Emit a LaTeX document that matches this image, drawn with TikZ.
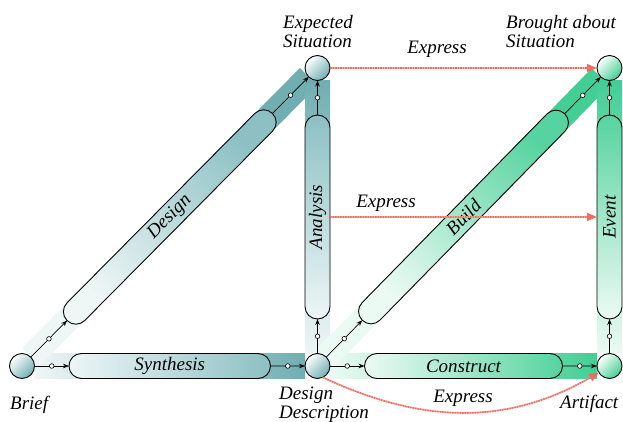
\documentclass[tikz,border=0pt]{standalone}
\usepackage{fontspec}
\setmainfont{Liberation Serif}
\usetikzlibrary{arrows.meta,shapes.misc,calc}

\definecolor{tealD}{RGB}{112,174,177}
\definecolor{tealC}{RGB}{140,192,195}
\definecolor{tealL}{RGB}{238,246,246}
\definecolor{greenD}{RGB}{66,206,148}
\definecolor{greenC}{RGB}{86,211,160}
\definecolor{greenL}{RGB}{236,250,244}
\definecolor{exprC}{RGB}{240,108,96}

\begin{document}
\begin{tikzpicture}[x=1pt,y=1pt,
  lbl/.style={font=\fontsize{19}{19}\selectfont\itshape, inner sep=0pt},
  hubbase/.style={circle, draw, line width=0.9pt, minimum size=25pt, inner sep=0pt, outer sep=0pt},
  hubT/.style={hubbase, top color=white, bottom color=tealD, shading angle=45},
  hubG/.style={hubbase, top color=white, bottom color=greenD, shading angle=45},
  band/.style={rectangle, draw=none, minimum height=25pt, inner sep=0pt, outer sep=0pt},
  capsule/.style={rounded rectangle, draw, line width=0.9pt, minimum height=25pt, inner sep=0pt, outer sep=0pt, lbl},
  conn/.style={line width=0.7pt, -{Stealth[length=6pt,width=4.5pt]}},
  dot/.style={circle, draw, fill=white, line width=0.6pt, minimum size=4.6pt, inner sep=0pt},
  exprbase/.style={exprC!55, line width=1.6pt, shorten >=8pt},
  expr/.style={exprC, line width=1.6pt, dash pattern=on 1.5pt off 1pt, -{Triangle[length=10pt,width=8pt]}},
]
\useasboundingbox (0,0) rectangle (623,421);

% hub positions
\coordinate (pBrief) at (22,55);
\coordinate (pDD) at (317.5,55);
\coordinate (pES) at (317.5,353);
\coordinate (pArt) at (609.5,55);
\coordinate (pBS) at (609.5,353);

% wide translucent bands behind the processes
\node[band, minimum width=270.5pt, bottom color=tealL, top color=tealD, shading angle=-90] (bSyn) at ($(pBrief)!0.5!(pDD)$) {};
\node[band, minimum width=394.7pt, rotate=45.24, bottom color=tealL, top color=tealD, shading angle=-44.76] (bDes) at ($(pBrief)!0.5!(pES)$) {};
\node[band, minimum width=273pt, rotate=90, bottom color=tealL, top color=tealD, shading angle=0] (bAna) at ($(pDD)!0.5!(pES)$) {};
\node[band, minimum width=267pt, bottom color=greenL, top color=greenD, shading angle=-90] (bCon) at ($(pDD)!0.5!(pArt)$) {};
\node[band, minimum width=392.2pt, rotate=45.58, bottom color=greenL, top color=greenD, shading angle=-44.42] (bBui) at ($(pDD)!0.5!(pBS)$) {};
\node[band, minimum width=273pt, rotate=90, bottom color=greenL, top color=greenD, shading angle=0] (bEve) at ($(pArt)!0.5!(pBS)$) {};

% situations and artefacts
\node[hubT] (brief) at (pBrief) {};
\node[hubT] (dd) at (pDD) {};
\node[hubT] (es) at (pES) {};
\node[hubG] (art) at (pArt) {};
\node[hubG] (bs) at (pBS) {};

% processes
\node[capsule, minimum width=201.5pt, bottom color=tealL, top color=tealC, shading angle=-90] (synth) at ($(pBrief)!0.5!(pDD)$) {Synthesis};
\node[capsule, minimum width=291.7pt, rotate=45.24, bottom color=tealL, top color=tealC, shading angle=-44.76] (design) at ($(pBrief)!0.5!(pES)$) {Design};
\node[capsule, minimum width=204pt, rotate=90, bottom color=tealL, top color=tealC, shading angle=0] (analysis) at ($(pDD)!0.5!(pES)$) {Analysis};
\node[capsule, minimum width=198pt, bottom color=greenL, top color=greenC, shading angle=-90] (construct) at ($(pDD)!0.5!(pArt)$) {Construct};
\node[capsule, minimum width=289.2pt, rotate=45.58, bottom color=greenL, top color=greenC, shading angle=-44.42] (build) at ($(pDD)!0.5!(pBS)$) {Build};
\node[capsule, minimum width=204pt, rotate=90, bottom color=greenL, top color=greenC, shading angle=0] (event) at ($(pArt)!0.5!(pBS)$) {Event};

% flow connectors
\draw[conn] (brief) -- node[dot]{} (synth);
\draw[conn] (synth) -- node[dot]{} (dd);
\draw[conn] (brief) -- node[dot]{} (design);
\draw[conn] (design) -- node[dot]{} (es);
\draw[conn] (dd) -- node[dot]{} (analysis);
\draw[conn] (analysis) -- node[dot]{} (es);
\draw[conn] (dd) -- node[dot]{} (build);
\draw[conn] (build) -- node[dot]{} (bs);
\draw[conn] (dd) -- node[dot]{} (construct);
\draw[conn] (construct) -- node[dot]{} (art);
\draw[conn] (art) -- node[dot]{} (event);
\draw[conn] (event) -- node[dot]{} (bs);

% expression relations: pale red underlay with a dotted red line on top
\draw[exprbase] (es) -- (bs);
\draw[exprbase] (analysis) -- (event);
\draw[exprbase] (dd.-65) to[out=-25, in=-150] (art.-148);
\draw[expr] (es) -- (bs);
\draw[expr] (analysis) -- (event);
\draw[expr] (dd.-65) to[out=-25, in=-150] (art.-148);

\node[lbl, anchor=base] (ex1) at (437,367) {Express};
\node[lbl, anchor=base] (ex2) at (386,214) {Express};
\node[lbl, anchor=base] (ex3) at (463,19) {Express};

% hub labels
\node[lbl, anchor=base west] (lBrief) at (10,12) {Brief};
\node[lbl, anchor=north west, align=left] (lDD) at (279,34) {Design\\Description};
\node[lbl, anchor=north west, align=left] (lES) at (283,406) {Expected\\Situation};
\node[lbl, anchor=north west, align=left] (lBS) at (506,406) {Brought about\\Situation};
\node[lbl, anchor=base west] (lArt) at (560,13) {Artifact};
\end{tikzpicture}
\end{document}
